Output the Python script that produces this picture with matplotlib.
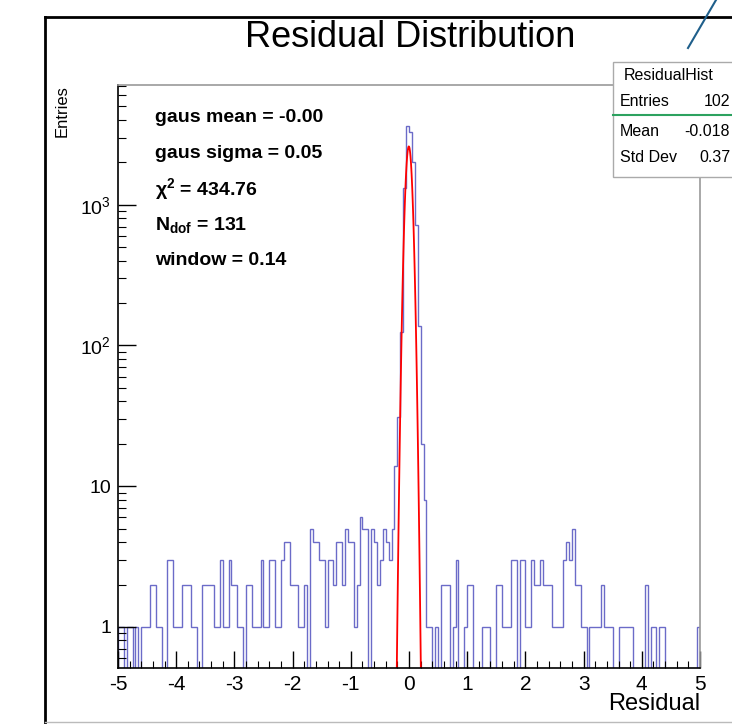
import numpy as np
import matplotlib
matplotlib.use('Agg')
import matplotlib.pyplot as plt
from matplotlib.lines import Line2D
from matplotlib.patches import Rectangle
from matplotlib.ticker import FixedLocator, FixedFormatter, NullFormatter

plt.rcParams['font.family'] = ['Liberation Sans', 'DejaVu Sans']
plt.rcParams['mathtext.fontset'] = 'custom'
plt.rcParams['mathtext.rm'] = 'Liberation Sans'
plt.rcParams['mathtext.bf'] = 'Liberation Sans:bold'
plt.rcParams['mathtext.it'] = 'Liberation Sans:italic'
plt.rcParams['axes.unicode_minus'] = False

# residual histogram, 200 bins of 0.05 from -5 to 5
bin_lo, bin_hi, n_bins = -5.0, 5.0, 200
counts = [
    1, 1, 0, 1, 1, 0, 1, 0, 1, 1,
    1, 2, 2, 1, 1, 0, 0, 3, 3, 1,
    1, 1, 2, 2, 2, 1, 1, 0, 0, 2,
    2, 2, 2, 1, 1, 3, 1, 1, 3, 2,
    2, 1, 1, 0, 2, 2, 1, 1, 1, 3,
    1, 1, 3, 3, 1, 1, 3, 4, 4, 2,
    2, 2, 1, 1, 2, 0, 5, 4, 4, 3,
    3, 1, 3, 3, 2, 4, 4, 2, 5, 4,
    4, 1, 2, 6, 5, 5, 0, 5, 4, 2,
    3, 5, 4, 3, 5, 14, 31, 125, 1320, 3650,
    3300, 2000, 720, 137, 20, 8, 1, 1, 0, 1,
    0, 2, 2, 2, 0, 1, 3, 0, 0, 1,
    2, 2, 0, 0, 0, 1, 1, 1, 0, 0,
    2, 2, 1, 1, 1, 3, 3, 0, 3, 3,
    1, 1, 3, 2, 2, 3, 2, 2, 2, 1,
    1, 1, 1, 3, 4, 3, 5, 2, 2, 1,
    1, 0, 1, 1, 1, 1, 2, 1, 1, 1,
    0, 0, 1, 1, 1, 1, 1, 0, 0, 0,
    0, 2, 0, 1, 1, 0, 1, 1, 0, 0,
    0, 0, 0, 0, 0, 0, 0, 0, 0, 1,
]

# gaussian fit
fit_amp = 2600.0
fit_mean = -0.003
fit_sigma = 0.05
fit_range = (-0.25, 0.25)

fit_lines = ['gaus mean = -0.00', 'gaus sigma = 0.05',
             'χ$^{\\mathbf{2}}$ = 434.76', '$\\mathbf{N}_{\\mathbf{dof}}$ = 131',
             'window = 0.14']

# stats box (only the part visible inside the canvas)
stat_names = ['Entries', 'Mean', 'Std Dev']
stat_values = ['102', '-0.018', '0.37']

ytick_vals = [1, 10, 100, 1000]
ytick_labels = ['1', '10', '10$^{2}$', '10$^{3}$']

W, H = 732, 724
fig = plt.figure(figsize=(W / 100, H / 100), dpi=100)

def fx(px):
    return px / W

def fy(py):
    return 1 - py / H

ax = fig.add_axes([fx(118), fy(668), fx(700) - fx(118), fy(85) - fy(668)])

edges = np.linspace(bin_lo, bin_hi, n_bins + 1)
vals = np.array(counts, dtype=float)
vals[vals <= 0] = 1e-3
ax.stairs(vals, edges, baseline=1e-3, color='#6b6bc8', lw=1.0)

xf = np.linspace(fit_range[0], fit_range[1], 101)
yf = fit_amp * np.exp(-0.5 * ((xf - fit_mean) / fit_sigma) ** 2)
ax.plot(xf, yf, color='red', lw=1.3)

ax.set_yscale('log')
ax.set_xlim(-5, 5)
ax.set_ylim(0.51, 7100)

ax.set_xticks(np.arange(-5, 6, 1))
ax.set_xticks(np.arange(-5, 5.01, 0.2), minor=True)
ax.tick_params(axis='x', which='major', direction='in', length=12, width=1,
               labelsize=15, pad=5, top=False)
ax.tick_params(axis='x', which='minor', direction='in', length=5, width=0.8, top=False)

ax.yaxis.set_major_locator(FixedLocator(ytick_vals))
ax.yaxis.set_major_formatter(FixedFormatter(ytick_labels))
minors = [m * 10 ** e for e in range(-1, 4) for m in range(2, 10)]
ax.yaxis.set_minor_locator(FixedLocator(minors))
ax.yaxis.set_minor_formatter(NullFormatter())
ax.tick_params(axis='y', which='major', direction='in', length=13, width=1,
               labelsize=14, pad=5, right=False)
ax.tick_params(axis='y', which='minor', direction='in', length=6, width=0.8, right=False)

for s in ['left', 'bottom']:
    ax.spines[s].set_color('black')
    ax.spines[s].set_linewidth(1.2)
for s in ['top', 'right']:
    ax.spines[s].set_color('#999999')
    ax.spines[s].set_linewidth(1.2)

for i, t in enumerate(fit_lines):
    fig.text(fx(155), fy(117 + 36 * i), t, fontsize=14, fontweight='bold',
             ha='left', va='center')

fig.text(fx(410), fy(47), 'Residual Distribution', fontsize=26, ha='center', va='baseline')
fig.text(fx(700), fy(704), 'Residual', fontsize=17, ha='right', va='center')
fig.text(fx(62), fy(85), 'Entries', fontsize=12, rotation=90, ha='center', va='top')

# pad border
fig.add_artist(Line2D([fx(45), fx(45)], [fy(17), fy(724)], color='black', lw=2))
fig.add_artist(Line2D([fx(45), fx(740)], [fy(17), fy(17)], color='black', lw=2))
fig.add_artist(Line2D([fx(45), fx(740)], [fy(722), fy(722)], color='#bbbbbb', lw=1))

# stray line from neighbouring object
fig.add_artist(Line2D([fx(716), fx(688)], [fy(0), fy(48)], color='#1f5f8b', lw=1.5))

# stats box
fig.add_artist(Rectangle((fx(613), fy(177)), fx(760) - fx(613), fy(62) - fy(177),
                         facecolor='white', edgecolor='#aaaaaa', lw=1, zorder=5))
fig.text(fx(624), fy(75), 'ResidualHist', fontsize=11.5, ha='left', va='center', zorder=6)
fig.add_artist(Line2D([fx(613), fx(740)], [fy(115), fy(115)], color='#2ca25f', lw=1.5, zorder=6))
for i, (n, v) in enumerate(zip(stat_names, stat_values)):
    y = [102, 132, 158][i]
    fig.text(fx(620), fy(y), n, fontsize=11.5, ha='left', va='center', zorder=6)
    fig.text(fx(730), fy(y), v, fontsize=11.5, ha='right', va='center', zorder=6)

fig.savefig('out.png', dpi=100)
